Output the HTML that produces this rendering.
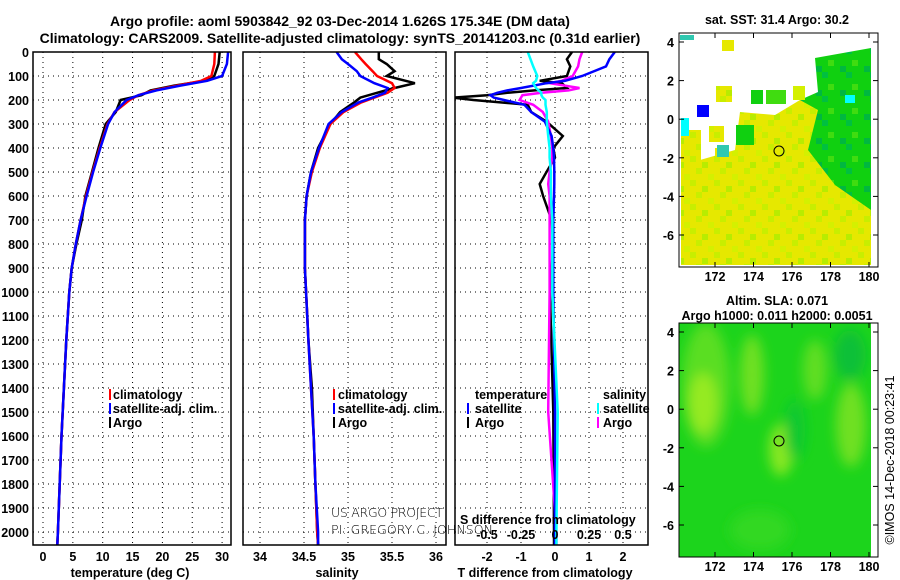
<!DOCTYPE html>
<html><head><meta charset="utf-8"><style>
html,body{margin:0;padding:0;background:#fff;}
svg{display:block;font-family:"Liberation Sans",Arial,sans-serif;}
.b{font-weight:bold;font-size:12.5px;}
.t{font-weight:bold;font-size:14px;}
</style></head><body>
<svg id="chart" width="900" height="580" viewBox="0 0 900 580" xmlns="http://www.w3.org/2000/svg">
<defs>
<clipPath id="c1"><rect x="33" y="52" width="198" height="493"/></clipPath>
<clipPath id="c2"><rect x="243" y="52" width="203" height="493"/></clipPath>
<clipPath id="c3"><rect x="455" y="52" width="193" height="493"/></clipPath>
<clipPath id="m2"><rect x="679" y="323" width="192" height="234"/></clipPath>
<pattern id="tex" width="24" height="24" patternUnits="userSpaceOnUse">
<rect width="24" height="24" fill="#e6e800"/><rect x="0" y="0" width="6" height="6" fill="#c8ee00"/><rect x="12" y="6" width="6" height="6" fill="#d4f000"/><rect x="6" y="18" width="6" height="6" fill="#b8ec00"/><rect x="18" y="12" width="6" height="6" fill="#c8ee00"/></pattern>
<pattern id="gtex" width="24" height="24" patternUnits="userSpaceOnUse">
<rect width="24" height="24" fill="#10d010"/><rect x="6" y="0" width="6" height="6" fill="#00c040"/><rect x="12" y="12" width="6" height="6" fill="#40dc10"/><rect x="0" y="18" width="6" height="6" fill="#00b840"/></pattern>
<filter id="bl"><feGaussianBlur stdDeviation="6"/></filter>
</defs>
<g>
<text class="t" x="340" y="26" text-anchor="middle">Argo profile: aoml 5903842_92 03-Dec-2014 1.626S 175.34E (DM data)</text>
<text class="t" x="340" y="43" text-anchor="middle">Climatology: CARS2009. Satellite-adjusted climatology: synTS_20141203.nc (0.31d earlier)</text>
</g>
<g id="grids"></g>
<g id="series"></g>
<g id="axes"></g>

<g class="b">
<rect x="109" y="389" width="2" height="11" fill="red"/><text x="113" y="399">climatology</text>
<rect x="109" y="403" width="2" height="11" fill="blue"/><text x="113" y="413">satellite-adj. clim.</text>
<rect x="109" y="417" width="2" height="11" fill="#000"/><text x="113" y="427">Argo</text>
</g>
<g class="b">
<rect x="333" y="389" width="2" height="11" fill="red"/><text x="338" y="399">climatology</text>
<rect x="333" y="403" width="2" height="11" fill="blue"/><text x="338" y="413">satellite-adj. clim.</text>
<rect x="333" y="417" width="2" height="11" fill="#000"/><text x="338" y="427">Argo</text>
</g>
<g class="b">
<text x="475" y="399">temperature</text>
<rect x="467" y="403" width="2" height="11" fill="blue"/><text x="475" y="413">satellite</text>
<rect x="467" y="417" width="2" height="11" fill="#000"/><text x="475" y="427">Argo</text>
<text x="603" y="399">salinity</text>
<rect x="597" y="403" width="2" height="11" fill="cyan"/><text x="603" y="413">satellite</text>
<rect x="597" y="417" width="2" height="11" fill="magenta"/><text x="603" y="427">Argo</text>
</g>
<g style="font-size:12.5px;font-family:'DejaVu Sans',sans-serif;font-weight:200">
<text x="331" y="517" textLength="112">US ARGO PROJECT</text>
<text x="331" y="534" textLength="162">PI: GREGORY C. JOHNSON</text>
</g>
<text class="b" x="460" y="524">S difference from climatology</text>
<g id="sticks" class="b"></g>

<g>
<text class="b" x="777" y="24" text-anchor="middle">sat. SST: 31.4 Argo: 30.2</text>
<rect x="679" y="33" width="199" height="234" fill="#fff"/>
<polygon points="681,165 700,160 735,150 740,112 775,115 800,100 840,98 871,150 871,265 681,265" fill="url(#tex)"/>
<polygon points="815,58 871,48 871,210 835,185 808,150 818,110 800,100 818,92" fill="url(#gtex)"/>
<rect x="681" y="130" width="20" height="35" fill="url(#tex)"/>
<rect x="709" y="126" width="15" height="16" fill="url(#tex)"/>
<rect x="736" y="125" width="18" height="20" fill="#10d010"/>
<rect x="715" y="148" width="14" height="14" fill="url(#tex)"/>
<rect x="722" y="40" width="12" height="11" fill="#e6e800"/><rect x="697" y="105" width="12" height="12" fill="blue"/>
<rect x="681" y="118" width="8" height="18" fill="cyan"/><rect x="717" y="145" width="12" height="12" fill="#30c8b0"/>
<rect x="716" y="86" width="16" height="16" fill="url(#tex)"/>
<rect x="751" y="90" width="12" height="14" fill="#10d010"/>
<rect x="766" y="90" width="20" height="14" fill="#40dc10"/>
<rect x="793" y="86" width="12" height="14" fill="#d4f000"/>
<rect x="680" y="35" width="14" height="5" fill="#30c8b0"/><rect x="845" y="95" width="10" height="8" fill="cyan"/>
<circle cx="779" cy="151" r="5" fill="none" stroke="#000"/>
<rect x="679" y="33" width="199" height="234" fill="none" stroke="#000"/>
</g>
<g>
<text class="b" x="777" y="305" text-anchor="middle">Altim. SLA: 0.071</text>
<text class="b" x="777" y="320" text-anchor="middle">Argo h1000: 0.011 h2000: 0.0051</text>
<rect x="679" y="323" width="192" height="234" fill="#1cd41c"/>
<g clip-path="url(#m2)" filter="url(#bl)">
<ellipse cx="706" cy="385" rx="24" ry="62" fill="#5ade20"/>
<ellipse cx="703" cy="403" rx="14" ry="30" fill="#96ea20"/>
<ellipse cx="752" cy="375" rx="12" ry="40" fill="#70e020"/>
<ellipse cx="815" cy="370" rx="12" ry="30" fill="#60de20"/>
<ellipse cx="781" cy="450" rx="12" ry="26" fill="#88e820"/>
<ellipse cx="851" cy="425" rx="15" ry="42" fill="#70e020"/>
<ellipse cx="850" cy="355" rx="16" ry="25" fill="#08c038"/>
<ellipse cx="795" cy="430" rx="10" ry="30" fill="#10c830"/>
<ellipse cx="760" cy="530" rx="30" ry="20" fill="#30d820"/>
</g>
<circle cx="779" cy="441" r="5" fill="none" stroke="#000"/>
<rect x="679" y="323" width="199" height="234" fill="none" stroke="#000"/>
</g>
<text transform="translate(894,460) rotate(-90)" text-anchor="middle" style="font-size:12.5px">©IMOS 14-Dec-2018 00:23:41</text>
<g id="mapaxes" class="b"></g>

<script>
const depthTicks=[0,100,200,300,400,500,600,700,800,900,1000,1100,1200,1300,1400,1500,1600,1700,1800,1900,2000];
const tTicks=[0,5,10,15,20,25,30];
const sTicks=[34,34.5,35,35.5,36];
const sTickLabels=["34","34.5","35","35.5","36"];
const dTicks=[-2,-1,0,1,2];
const dsTicks=[-0.5,-0.25,0,0.25,0.5];
const dsTickLabels=["-0.5","-0.25","0","0.25","0.5"];
const latTicks=[4,2,0,-2,-4,-6];
const lonTicks=[172,174,176,178,180];

const tDepth=[0,50,100,120,140,160,180,200,250,300,400,500,600,700,800,900,1000,1200,1400,1600,1800,2000,2055];
const tClim=[28.8,28.7,28.2,26.5,22.5,18.5,16,14.5,12,10.8,9.5,8.3,7.2,6.3,5.5,4.8,4.4,3.9,3.5,3.1,2.8,2.5,2.4];
const tSat=[31,30.8,30,27.5,23,19,16,14,12,10.9,9.6,8.4,7.3,6.3,5.5,4.8,4.4,3.9,3.5,3.1,2.8,2.5,2.4];
const tArgo=[29.6,29.4,28.7,27,22,18,16.5,13,12.2,10.5,9.3,8.2,7.1,6.5,5.6,4.8,4.4,3.9,3.5,3.1,2.8,2.5,2.4];

const sDepth=[0,30,50,80,100,130,150,170,190,210,250,300,400,500,600,700,900,1200,1400,1600,1800,2000,2055];
const sClim=[35.08,35.15,35.2,35.28,35.33,35.5,35.53,35.45,35.3,35.15,34.95,34.8,34.68,34.59,34.53,34.51,34.51,34.55,34.58,34.61,34.63,34.65,34.66];
const sSat=[34.87,34.93,35.0,35.1,35.14,35.3,35.45,35.42,35.28,35.12,34.93,34.78,34.67,34.58,34.53,34.51,34.51,34.55,34.58,34.61,34.63,34.66,34.66];
const sArgo=[35.35,35.35,35.44,35.53,35.44,35.76,35.53,35.33,35.14,35.07,34.91,34.8,34.66,34.58,34.53,34.51,34.51,34.55,34.59,34.61,34.63,34.65,34.66];

const dDepth=[0,30,60,100,120,130,150,160,170,180,190,200,220,250,290,350,400,440,500,550,600,700,800,1000,1500,2000,2055];
const dtSat=[1.76,1.6,1.5,0.8,0.3,-0.25,-1.0,-1.4,-1.7,-1.9,-1.8,-1.5,-0.9,-0.7,-0.3,-0.1,-0.05,-0.03,-0.02,-0.02,-0.03,-0.05,-0.05,-0.05,0,0,0];
const dtArgo=[0.5,0.35,0.45,0.35,-0.45,0.2,0.35,-0.6,-1.4,-2.0,-3.0,-2.4,-0.8,-0.7,-0.25,0.23,-0.05,0,-0.25,-0.45,-0.35,-0.1,-0.05,-0.15,-0.05,-0.03,-0.03];
const dsSat=[-0.2,-0.18,-0.16,-0.13,-0.14,-0.16,-0.14,-0.12,-0.1,-0.1,-0.09,-0.07,-0.07,-0.06,-0.06,-0.05,-0.04,-0.04,-0.03,-0.03,-0.03,-0.02,-0.02,-0.02,0.02,0.01,0.01];
const dsArgo=[0.2,0.18,0.17,0.13,0.05,-0.04,0.18,0.1,-0.1,-0.24,-0.25,-0.26,-0.16,-0.09,-0.05,-0.03,-0.02,-0.02,-0.04,-0.05,-0.04,-0.04,-0.04,-0.04,-0.05,0.01,0.01];

const NS="http://www.w3.org/2000/svg";
const yD=d=>52+d*0.24;
const xT=t=>43+t*5.97;
const xS=s=>260+(s-34)*88;
const xDT=v=>555+v*34;
const xDS=v=>555+v*136;
const P=[{x:33,w:198,c:"c1"},{x:243,w:203,c:"c2"},{x:455,w:193,c:"c3"}];
function mk(tag,par,at){const e=document.createElementNS(NS,tag);for(const k in at)e.setAttribute(k,at[k]);document.getElementById(par).appendChild(e);return e;}

P.forEach((p,i)=>{depthTicks.forEach(d=>{if(d===0)return;const l=mk('line','grids',{x1:p.x,x2:p.x+p.w,y1:yD(d),y2:yD(d),stroke:'#000','stroke-width':1,'stroke-dasharray':'1,4'});

});});
[[tTicks,xT,0],[sTicks,xS,1],[dTicks,xDT,2]].forEach(([tk,f,i])=>{tk.forEach(v=>{const l=mk('line','grids',{x1:f(v),x2:f(v),y1:52,y2:545,stroke:'#000','stroke-width':1,'stroke-dasharray':'1,4'});

});});

function series(par,clip,dep,vals,fx,color,name){
 const pts=dep.map((d,i)=>fx(vals[i]).toFixed(1)+','+yD(d).toFixed(1)).join(' ');
 const e=mk('polyline',par,{points:pts,fill:'none',stroke:color,'stroke-width':2.5,'clip-path':'url(#'+clip+')'});
 
 
}
series('series','c1',tDepth,tArgo,xT,'#000','temperature-argo-line');
series('series','c1',tDepth,tClim,xT,'red','temperature-climatology-line');
series('series','c1',tDepth,tSat,xT,'blue','temperature-satellite-line');
series('series','c2',sDepth,sArgo,xS,'#000','salinity-argo-line');
series('series','c2',sDepth,sClim,xS,'red','salinity-climatology-line');
series('series','c2',sDepth,sSat,xS,'blue','salinity-satellite-line');
series('series','c3',dDepth,dtArgo,xDT,'#000','t-diff-argo-line');
series('series','c3',dDepth,dsArgo,xDS,'magenta','s-diff-argo-line');
series('series','c3',dDepth,dtSat,xDT,'blue','t-diff-satellite-line');
series('series','c3',dDepth,dsSat,xDS,'cyan','s-diff-satellite-line');

P.forEach(p=>{const r=mk('rect','axes',{x:p.x,y:52,width:p.w,height:493,fill:'none',stroke:'#000','stroke-width':1.5});

});
depthTicks.forEach(d=>{const t=mk('text','axes',{x:29,y:yD(d)+5,'text-anchor':'end',class:'b'});t.textContent=d;

});
function xl(tk,labels,f,y){tk.forEach((v,i)=>{const t=mk('text','axes',{x:f(v),y:y,'text-anchor':'middle',class:'b'});t.textContent=labels?labels[i]:v;

});}
xl(tTicks,null,xT,561);xl(sTicks,sTickLabels,xS,561);xl(dTicks,null,xDT,561);xl(dsTicks,dsTickLabels,xDS,539);
[[130,'temperature (deg C)'],[337,'salinity'],[545,'T difference from climatology']].forEach(([x,s])=>{const t=mk('text','axes',{x:x,y:577,'text-anchor':'middle',class:'b'});t.textContent=s;

});

[[42,33],[332,323]].forEach(([y4,top])=>{
 latTicks.forEach(v=>{const y=y4+19.3*(4-v);const t=mk('text','mapaxes',{x:674,y:y+5,'text-anchor':'end'});t.textContent=v;
 
 
 mk('line','mapaxes',{x1:873,x2:878,y1:y,y2:y,stroke:'#000'});mk('line','mapaxes',{x1:679,x2:684,y1:y,y2:y,stroke:'#000'});});
 lonTicks.forEach(v=>{const x=715+19.25*(v-172);const t=mk('text','mapaxes',{x:x,y:top+248,'text-anchor':'middle'});t.textContent=v;
 
 
 mk('line','mapaxes',{x1:x,x2:x,y1:top,y2:top+5,stroke:'#000'});mk('line','mapaxes',{x1:x,x2:x,y1:top+229,y2:top+234,stroke:'#000'});});
});
</script>
</svg>
</body></html>
